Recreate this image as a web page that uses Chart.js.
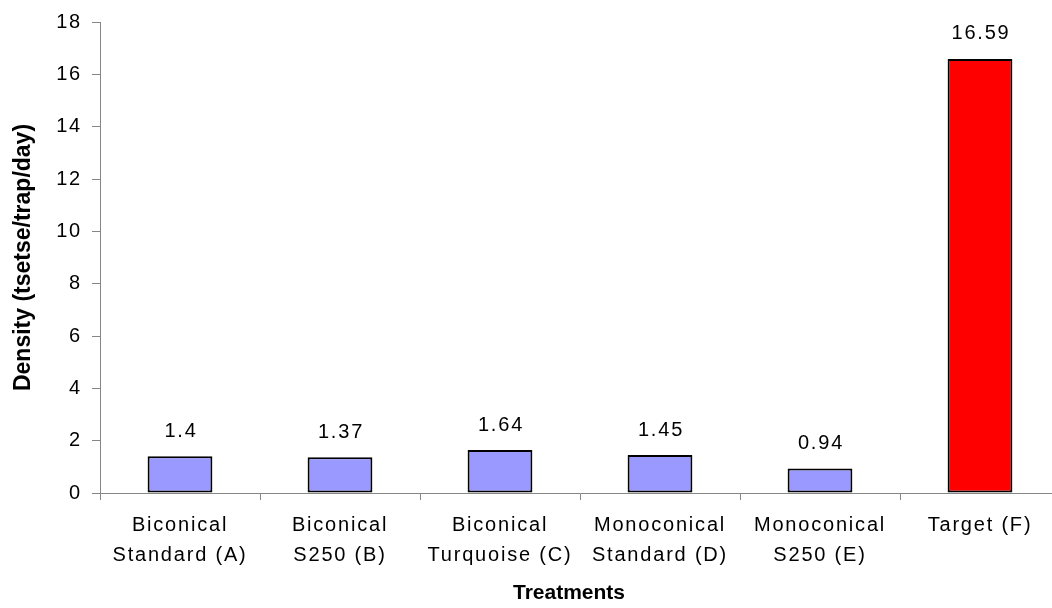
<!DOCTYPE html>
<html>
<head>
<meta charset="utf-8">
<script src="https://cdn.jsdelivr.net/npm/chart.js@4.4.1/dist/chart.umd.min.js"></script>
<style>
  html, body { margin: 0; padding: 0; background: #fff; overflow: hidden; }
  #wrap { width: 1060px; height: 608px; position: relative; }
</style>
</head>
<body>
<div id="wrap"><canvas id="c"></canvas></div>
<script>
// Trap treatments and their mean tsetse density
const categories = [
  ['Biconical', 'Standard (A)'],
  ['Biconical', 'S250 (B)'],
  ['Biconical', 'Turquoise (C)'],
  ['Monoconical', 'Standard (D)'],
  ['Monoconical', 'S250 (E)'],
  ['Target (F)']
];
const density = [1.4, 1.37, 1.64, 1.45, 0.94, 16.59];
const valueLabels = ['1.4', '1.37', '1.64', '1.45', '0.94', '16.59'];
const barColors = ['#9999FF', '#9999FF', '#9999FF', '#9999FF', '#9999FF', '#FF0000'];
const xTitle = 'Treatments';
const yTitle = 'Density (tsetse/trap/day)';

const FONT = 'Liberation Sans, Arial, Helvetica, sans-serif';
const AXIS = '#868686';
const SPACING = '1.8px';

// Writes each bar's value just above it
const valueLabelPlugin = {
  id: 'valueLabels',
  afterDatasetsDraw(chart) {
    const ctx = chart.ctx;
    const meta = chart.getDatasetMeta(0);
    ctx.save();
    ctx.letterSpacing = SPACING;
    ctx.font = '20px ' + FONT;
    ctx.fillStyle = '#000';
    ctx.textAlign = 'center';
    ctx.textBaseline = 'middle';
    meta.data.forEach((bar, i) => {
      ctx.fillText(valueLabels[i], bar.x + 1, bar.y - 25);
    });
    ctx.restore();
  }
};

// Category-axis title, set slightly left of the plot centre
const xTitlePlugin = {
  id: 'xTitle',
  afterDraw(chart) {
    const ctx = chart.ctx;
    const area = chart.chartArea;
    ctx.save();
    ctx.font = 'bold 21px ' + FONT;
    ctx.fillStyle = '#000';
    ctx.textAlign = 'center';
    ctx.textBaseline = 'middle';
    ctx.fillText(xTitle, (area.left + area.right) / 2 - 11, chart.height - 15);
    ctx.restore();
  }
};

// Tick labels are drawn with a little extra letter spacing
const spacedTicksPlugin = {
  id: 'spacedTicks',
  beforeDraw(chart) {
    Object.values(chart.scales).forEach(scale => {
      if (scale._spaced) return;
      const orig = scale.drawLabels;
      scale.drawLabels = function (area) {
        const ctx = this.ctx;
        ctx.save();
        ctx.letterSpacing = SPACING;
        orig.call(this, area);
        ctx.restore();
      };
      scale._spaced = true;
    });
  }
};

new Chart(document.getElementById('c'), {
  type: 'bar',
  data: {
    labels: categories,
    datasets: [{
      data: density,
      backgroundColor: barColors,
      borderColor: '#000',
      borderWidth: 2,
      borderSkipped: false,
      barPercentage: 0.405,
      categoryPercentage: 1
    }]
  },
  options: {
    responsive: true,
    maintainAspectRatio: false,
    animation: false,
    layout: { padding: { top: 21, right: 0, bottom: 0, left: 0 } },
    plugins: { legend: { display: false }, tooltip: { enabled: false } },
    scales: {
      x: {
        afterFit(s) { s.height = 115; },
        border: { color: AXIS, width: 1 },
        grid: { drawOnChartArea: false, drawTicks: true, tickLength: 7, color: AXIS, offset: true },
        ticks: { color: '#000', font: { family: FONT, size: 20, lineHeight: 1.5 }, padding: 10, maxRotation: 0, autoSkip: false },
        title: { display: false }
      },
      y: {
        min: 0,
        max: 18,
        afterFit(s) { s.width = 100; },
        border: { color: AXIS, width: 1 },
        grid: { drawOnChartArea: false, drawTicks: true, tickLength: 8, color: AXIS },
        ticks: { stepSize: 2, color: '#000', font: { family: FONT, size: 20 }, padding: 10 },
        title: { display: true, text: yTitle, color: '#000', font: { family: FONT, size: 23, weight: 'bold' }, padding: { top: 10, bottom: 0 } }
      }
    }
  },
  plugins: [spacedTicksPlugin, valueLabelPlugin, xTitlePlugin]
});
</script>
</body>
</html>
